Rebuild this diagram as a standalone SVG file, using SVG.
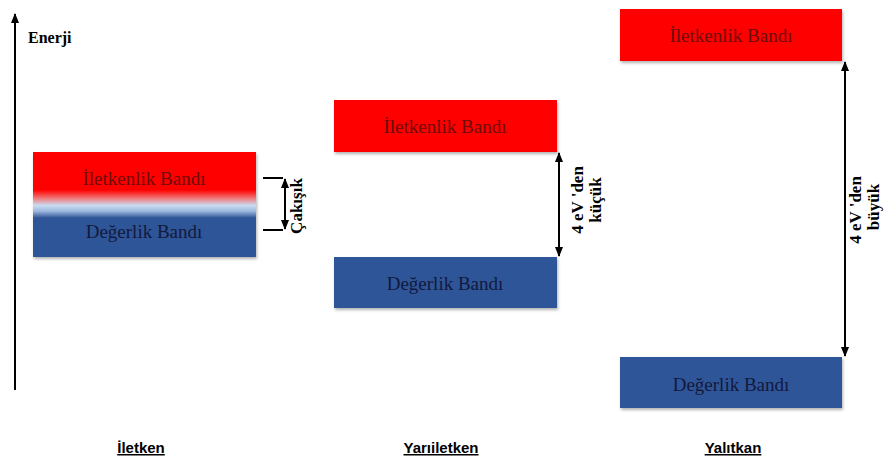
<svg xmlns="http://www.w3.org/2000/svg" width="888" height="463" viewBox="0 0 888 463">
  <defs>
    <linearGradient id="overlap" x1="0" y1="0" x2="0" y2="1">
      <stop offset="0" stop-color="#ff0000"/>
      <stop offset="0.3" stop-color="#f07a7a"/>
      <stop offset="0.55" stop-color="#c9dcf2"/>
      <stop offset="0.75" stop-color="#9fb9e0"/>
      <stop offset="1" stop-color="#2f5597"/>
    </linearGradient>
    <filter id="shadow" x="-5%" y="-10%" width="110%" height="130%">
      <feDropShadow dx="1" dy="2" stdDeviation="1.5" flood-color="#000" flood-opacity="0.3"/>
    </filter>
    <marker id="head" viewBox="0 0 10 10" refX="9" refY="5" markerWidth="5" markerHeight="5" orient="auto-start-reverse">
      <path d="M0,1 L10,5 L0,9 z" fill="#000"/>
    </marker>
  </defs>
  <style>
    .cb { fill: #ff0000; filter: url(#shadow); }
    .vb { fill: #2f5597; filter: url(#shadow); }
    .cbt { font-family: "Liberation Serif", "Times New Roman", serif; font-size: 19px; fill: #6e0b0b; text-anchor: middle; }
    .vbt { font-family: "Liberation Serif", "Times New Roman", serif; font-size: 19px; fill: #13193d; text-anchor: middle; }
    .gap { font-family: "Liberation Serif", "Times New Roman", serif; font-size: 17px; font-weight: bold; fill: #000; text-anchor: middle; }
    .lbl { font-family: "Liberation Sans", Arial, sans-serif; font-size: 15px; font-weight: bold; fill: #000; text-anchor: middle; text-decoration: underline; }
    .ln { stroke: #000; stroke-width: 2; fill: none; }
  </style>
  <rect width="888" height="463" fill="#fff"/>

  <!-- energy axis -->
  <g id="axis">
    <line x1="15" y1="390" x2="15" y2="14" class="ln" marker-end="url(#head)"/>
    <text x="28" y="43" font-family="Liberation Serif, serif" font-size="16" font-weight="bold">Enerji</text>
  </g>

  <!-- conductor: overlapping bands -->
  <g id="conductor">
    <rect x="33" y="152" width="223" height="105" fill="#2f5597" filter="url(#shadow)"/>
    <rect x="33" y="152" width="223" height="38" fill="#ff0000"/>
    <rect x="33" y="190" width="223" height="28" fill="url(#overlap)"/>
    <text class="cbt" x="144" y="185">İletkenlik Bandı</text>
    <text class="vbt" x="144" y="238">Değerlik Bandı</text>
    <text class="lbl" x="141" y="453">İletken</text>
  </g>

  <!-- semiconductor -->
  <g id="semiconductor">
    <rect class="cb" x="334" y="100" width="223" height="52"/>
    <rect class="vb" x="334" y="257" width="223" height="51"/>
    <text class="cbt" x="445" y="133">İletkenlik Bandı</text>
    <text class="vbt" x="445" y="290">Değerlik Bandı</text>
    <text class="lbl" x="441" y="453">Yarıiletken</text>
  </g>

  <!-- insulator -->
  <g id="insulator">
    <rect class="cb" x="620" y="9" width="222" height="52"/>
    <rect class="vb" x="620" y="357" width="222" height="51"/>
    <text class="cbt" x="731" y="42">İletkenlik Bandı</text>
    <text class="vbt" x="731" y="391">Değerlik Bandı</text>
    <text class="lbl" x="733" y="453">Yalıtkan</text>
  </g>

  <!-- gap markers -->
  <g id="connectors">
    <polyline class="ln" points="263,178 283,178"/>
    <polyline class="ln" points="263,230 283,230"/>
    <line class="ln" x1="285" y1="179" x2="285" y2="229" stroke-width="1.5" marker-start="url(#head)" marker-end="url(#head)"/>
    <line class="ln" x1="559" y1="153" x2="559" y2="256" stroke-width="1.5" marker-start="url(#head)" marker-end="url(#head)"/>
    <line class="ln" x1="845" y1="62" x2="845" y2="356" stroke-width="1.5" marker-start="url(#head)" marker-end="url(#head)"/>
  </g>

  <g id="gap-labels">
    <text class="gap" font-size="16" transform="translate(302,206) rotate(-90)">Çakışık</text>
    <text class="gap" transform="translate(583,200) rotate(-90)">4 eV 'den</text>
    <text class="gap" transform="translate(601,200) rotate(-90)">küçük</text>
    <text class="gap" transform="translate(861,210) rotate(-90)">4 eV 'den</text>
    <text class="gap" transform="translate(879,207) rotate(-90)">büyük</text>
  </g>
</svg>
